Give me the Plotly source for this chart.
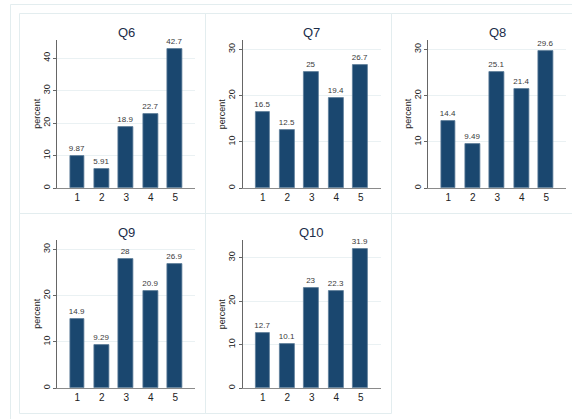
import plotly.graph_objects as go

# Survey response distributions (percent of respondents per answer 1-5)
questions = ["Q6", "Q7", "Q8", "Q9", "Q10"]
answers = [1, 2, 3, 4, 5]
q6 = [9.87, 5.91, 18.9, 22.7, 42.7]
q7 = [16.5, 12.5, 25, 19.4, 26.7]
q8 = [14.4, 9.49, 25.1, 21.4, 29.6]
q9 = [14.9, 9.29, 28, 20.9, 26.9]
q10 = [12.7, 10.1, 23, 22.3, 31.9]
yticks_q6 = [0, 10, 20, 30, 40]
yticks_other = [0, 10, 20, 30]

series = [q6, q7, q8, q9, q10]
ticks = [yticks_q6, yticks_other, yticks_other, yticks_other, yticks_other]

W, H = 572, 419
FONT = "Liberation Sans, Arial, sans-serif"
BAR = "#1a476f"
BORDER = "#e3edef"
GRID = "#eaf1f3"


def fx(p):
    return p / W


def fy(p):
    return 1 - p / H


# plot-region geometry of the 3x2 grid (pixels)
col_left = [57.3, 242.8, 428.3]
plot_w = 138
row_top = [40, 240]
plot_h = 148
cell_left = [19, 205, 391]
cell_top = [13, 213]
cell_w, cell_h = 186, 200

fig = go.Figure()
annotations = []
shapes = []


def edge(x0, y0, x1, y1):
    shapes.append(dict(
        type="line", xref="paper", yref="paper",
        x0=fx(x0), x1=fx(x1), y0=fy(y0), y1=fy(y1),
        line=dict(color=BORDER, width=1), layer="below",
    ))


for i, (name, vals, tk) in enumerate(zip(questions, series, ticks)):
    r, c = divmod(i, 3)
    n = i + 1
    xa = "x" if n == 1 else f"x{n}"
    ya = "y" if n == 1 else f"y{n}"
    fig.add_trace(go.Bar(
        x=answers, y=vals,
        text=[f"{v:.3g}" for v in vals],
        textposition="outside",
        constraintext="none",
        cliponaxis=False,
        textfont=dict(size=8, color="#3a3a3a", family=FONT),
        marker=dict(color=BAR, line=dict(color="#5d7d99", width=0.8)),
        width=0.61,
        xaxis=xa, yaxis=ya,
        showlegend=False,
        hoverinfo="skip",
    ))
    x0 = col_left[c]
    y0 = row_top[r]
    top = max(max(vals), max(tk)) * 1.067
    fig.update_layout({
        f"xaxis{'' if n == 1 else n}": dict(
            domain=[fx(x0), fx(x0 + plot_w)],
            anchor=ya,
            range=[0.184, 5.82],
            tickmode="array", tickvals=answers, ticktext=[str(a) for a in answers],
            ticks="", showgrid=False, zeroline=False,
            showline=True, linecolor="#8a8a8a", linewidth=1,
            tickfont=dict(size=10, color="#222222", family=FONT),
            fixedrange=True,
        ),
        f"yaxis{'' if n == 1 else n}": dict(
            domain=[fy(y0 + plot_h), fy(y0)],
            anchor=xa,
            range=[0, top],
            tickmode="array", tickvals=tk,
            tickangle=-90,
            ticks="outside", ticklen=3, tickcolor="#666666",
            showgrid=True, gridcolor=GRID, gridwidth=1,
            zeroline=False,
            showline=True, linecolor="#666666", linewidth=1,
            tickfont=dict(size=9, color="#222222", family=FONT),
            fixedrange=True,
        ),
    })
    # panel title
    annotations.append(dict(
        text=name, x=fx(x0 + plot_w / 2), y=fy(32.5 + r * 200),
        xref="paper", yref="paper", xanchor="center", yanchor="middle",
        showarrow=False, font=dict(size=13, color="#1c2d4a", family=FONT),
    ))
    # y axis title
    annotations.append(dict(
        text="percent", x=fx(x0 - 21), y=fy(y0 + plot_h / 2 - 0.5),
        xref="paper", yref="paper", xanchor="center", yanchor="middle",
        textangle=-90, showarrow=False,
        font=dict(size=9, color="#222222", family=FONT),
    ))
    # panel border (right edge of the last column falls outside the page)
    L, T = cell_left[c] + 0.5, cell_top[r] + 0.5
    R, B = cell_left[c] + cell_w + 0.5, cell_top[r] + cell_h + 0.5
    edge(L, T, min(R, W), T)
    edge(L, B, min(R, W), B)
    edge(L, T, L, B)
    if R < W:
        edge(R, T, R, B)

# outer graph frame (only its top and left sides lie on the page)
edge(10.5, 4.5, W, 4.5)
edge(10.5, 4.5, 10.5, H)

fig.update_layout(
    width=W, height=H,
    margin=dict(l=0, r=0, t=0, b=0),
    paper_bgcolor="white", plot_bgcolor="white",
    annotations=annotations, shapes=shapes,
    bargap=0,
)

fig.write_html("out.html", config={"displayModeBar": False})
